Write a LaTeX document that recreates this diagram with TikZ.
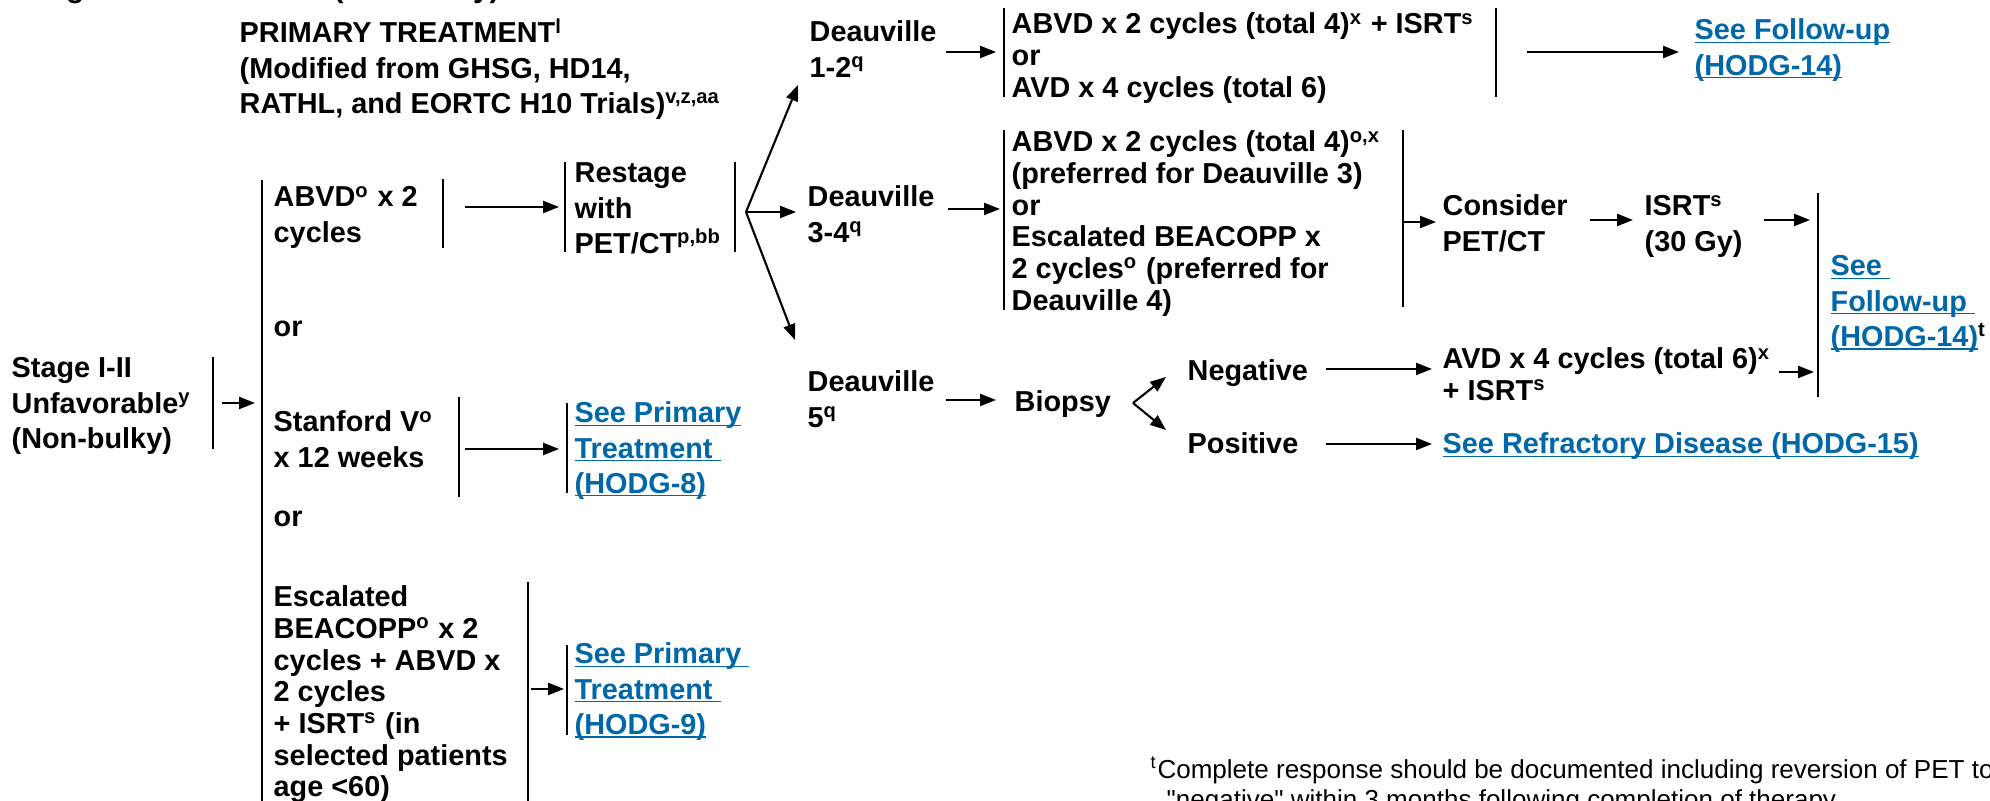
\documentclass[tikz,border=0pt]{standalone}
\usepackage{fontspec}
\setmainfont{Liberation Sans}
\usetikzlibrary{arrows.meta}

\definecolor{linkblue}{RGB}{0,103,168}
% underlined link text, rule drawn just under the baseline
\newcommand\ulk[1]{\setbox0\hbox{#1}\rlap{\rule[-0.12em]{\wd0}{0.06em}}\box0}
\newcommand\sps[1]{\textsuperscript{#1}}

\tikzset{
 txt/.style={anchor=base west, align=left, inner sep=0pt, font=\fontsize{8.2}{9.96}\selectfont\bfseries},
 tight/.style={txt, font=\fontsize{8.2}{9.0}\selectfont\bfseries},
 lnk/.style={txt, text=linkblue},
 % the base anchor sits on the last line: drop by the lines below the first
 drop/.style={yshift=-#1*9.96pt},
 dropt/.style={yshift=-#1*9pt},
 bar/.style={line width=0.6pt},
 arr/.style={line width=0.6pt, -{Triangle[length=4.5pt,width=3.4pt]}},
}

\begin{document}
\begin{tikzpicture}[x=0.01cm, y=-0.01cm]
 \useasboundingbox (0,0) rectangle (1990,801);
 \clip (0,0) rectangle (1990,801);

 % headings
 \node[txt, font=\fontsize{8.5}{10}\selectfont\bfseries] (head) at (19,-2.5) {Stage I-II Unfavorable (Non-bulky)};
 \node[txt, drop=2] (title) at (239,43) {PRIMARY TREATMENT\sps{l}\\(Modified from GHSG, HD14,\\RATHL, and EORTC H10 Trials)\sps{v,z,aa}};

 % left column
 \node[txt, drop=2] (stage) at (11,378) {Stage I-II\\Unfavorable\sps{y}\\(Non-bulky)};
 \node[txt, drop=1] (abvd) at (273,207) {ABVD\sps{o} x 2\\cycles};
 \node[txt, drop=2] (restage) at (574,183) {Restage\\with\\PET/CT\sps{p,bb}};
 \node[txt] (or1) at (273,337) {or};
 \node[txt, drop=1] (stanford) at (273,432) {Stanford V\sps{o}\\x 12 weeks};
 \node[lnk, drop=2] (hodg8) at (574,423) {\ulk{See Primary}\\\ulk{Treatment\ }\\\ulk{(HODG-8)}};
 \node[txt] (or2) at (273,527) {or};
 \node[tight, dropt=6] (escal) at (273,607) {Escalated\\BEACOPP\sps{o} x 2\\cycles + ABVD x\\2 cycles\\+ ISRT\sps{s} (in\\selected patients\\age <60)};
 \node[lnk, drop=2] (hodg9) at (574,664) {\ulk{See Primary\ }\\\ulk{Treatment\ }\\\ulk{(HODG-9)}};

 % Deauville results
 \node[txt, drop=1] (dv12) at (809,42) {Deauville\\1-2\sps{q}};
 \node[tight, dropt=2] (opt12) at (1011,34) {ABVD x 2 cycles (total 4)\sps{x} + ISRT\sps{s}\\or\\AVD x 4 cycles (total 6)};
 \node[lnk, drop=1] (fu12) at (1694,40) {\ulk{See Follow-up}\\\ulk{(HODG-14)}};
 \node[txt, drop=1] (dv34) at (807,207) {Deauville\\3-4\sps{q}};
 \node[tight, dropt=5] (opt34) at (1011,152) {ABVD x 2 cycles (total 4)\sps{o,x}\\(preferred for Deauville 3)\\or\\Escalated BEACOPP x\\2 cycles\sps{o} (preferred for\\Deauville 4)};
 \node[txt, drop=1] (consider) at (1442,216) {Consider\\PET/CT};
 \node[txt, drop=1] (isrt) at (1644,216) {ISRT\sps{s}\\(30 Gy)};
 \node[lnk, drop=2] (fu34) at (1830,276) {\ulk{See\ }\\\ulk{Follow-up\ }\\\ulk{(HODG-14)}\textcolor{black}{\sps{t}}};
 \node[txt, drop=1] (dv5) at (807,392) {Deauville\\5\sps{q}};
 \node[txt] (biopsy) at (1014,412) {Biopsy};
 \node[txt] (neg) at (1187,381) {Negative};
 \node[tight, dropt=1] (avd) at (1442,369) {AVD x 4 cycles (total 6)\sps{x}\\+ ISRT\sps{s}};
 \node[txt] (pos) at (1187,454) {Positive};
 \node[lnk] (refr) at (1442,454) {\ulk{See Refractory Disease (HODG-15)}};

 \node[txt, font=\fontsize{7.4}{8.5}\selectfont, yshift=-8.5pt] (foot) at (1150,779) {\sps{t}Complete response should be documented including reversion of PET to\\\hspace*{0.16cm}\textquotedbl negative\textquotedbl{} within 3 months following completion of therapy.};

 % bars
 \draw[bar] (213,357) -- (213,449);
 \draw[bar] (262,180) -- (262,801);
 \draw[bar] (443,179) -- (443,248);
 \draw[bar] (565,162) -- (565,252);
 \draw[bar] (735,162) -- (735,252);
 \draw[bar] (459,397) -- (459,497);
 \draw[bar] (567,403) -- (567,493);
 \draw[bar] (528,582) -- (528,801);
 \draw[bar] (567,645) -- (567,735);
 \draw[bar] (1004,8) -- (1004,97);
 \draw[bar] (1496,8) -- (1496,97);
 \draw[bar] (1004,130) -- (1004,310);
 \draw[bar] (1403,130) -- (1403,307);
 \draw[bar] (1818,193) -- (1818,397);

 % arrow ends
 \coordinate (stageout) at (222,403);   \coordinate (trunkin) at (255,403);
 \coordinate (abvdout) at (465,207);    \coordinate (restagein) at (559,207);
 \coordinate (split) at (746,212);
 \coordinate (dv12in) at (798,85);      \coordinate (dv34in) at (796,212);   \coordinate (dv5in) at (795,340);
 \coordinate (stanfout) at (465,449);   \coordinate (hodg8in) at (559,449);
 \coordinate (escalout) at (531,689);   \coordinate (hodg9in) at (564,689);
 \coordinate (dv12out) at (946,52);     \coordinate (opt12in) at (996,52);
 \coordinate (opt12out) at (1527,52);   \coordinate (fu12in) at (1679,52);
 \coordinate (dv34out) at (948,209);    \coordinate (opt34in) at (1000,209);
 \coordinate (opt34out) at (1403,222);  \coordinate (considerin) at (1436,222);
 \coordinate (considerout) at (1590,220); \coordinate (isrtin) at (1633,220);
 \coordinate (isrtout) at (1764,220);   \coordinate (fu34top) at (1810,220);
 \coordinate (dv5out) at (946,400);     \coordinate (biopsyin) at (996,400);
 \coordinate (fork) at (1133,403);
 \coordinate (negin) at (1166,377);     \coordinate (posin) at (1166,430);
 \coordinate (negout) at (1326,369);    \coordinate (avdin) at (1432,369);
 \coordinate (avdout) at (1779,372);    \coordinate (fu34bot) at (1814,372);
 \coordinate (posout) at (1326,444);    \coordinate (refrin) at (1432,444);

 % arrows
 \draw[arr] (stageout) -- (trunkin);
 \draw[arr] (abvdout) -- (restagein);
 \draw[arr] (split) -- (dv12in);
 \draw[arr] (split) -- (dv34in);
 \draw[arr] (split) -- (dv5in);
 \draw[arr] (stanfout) -- (hodg8in);
 \draw[arr] (escalout) -- (hodg9in);
 \draw[arr] (dv12out) -- (opt12in);
 \draw[arr] (opt12out) -- (fu12in);
 \draw[arr] (dv34out) -- (opt34in);
 \draw[arr] (opt34out) -- (considerin);
 \draw[arr] (considerout) -- (isrtin);
 \draw[arr] (isrtout) -- (fu34top);
 \draw[arr] (dv5out) -- (biopsyin);
 \draw[arr] (fork) -- (negin);
 \draw[arr] (fork) -- (posin);
 \draw[arr] (negout) -- (avdin);
 \draw[arr] (avdout) -- (fu34bot);
 \draw[arr] (posout) -- (refrin);
\end{tikzpicture}
\end{document}
